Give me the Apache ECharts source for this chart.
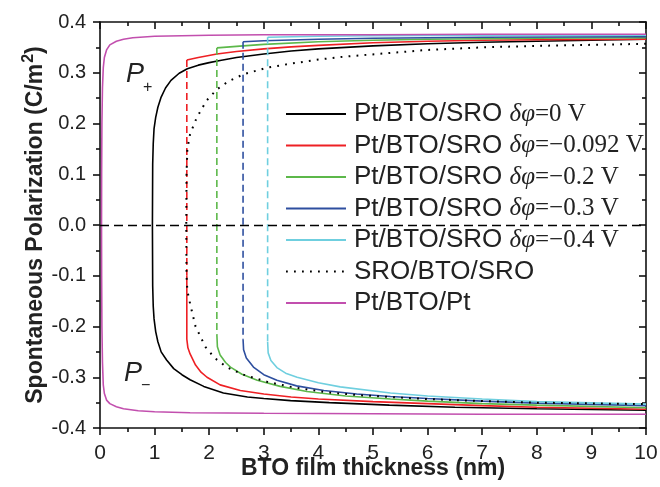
<!DOCTYPE html>
<html>
<head>
<meta charset="utf-8">
<script src="https://cdn.jsdelivr.net/npm/echarts@6/dist/echarts.min.js"></script>
<style>html,body{margin:0;padding:0;background:#fff}#c{width:660px;height:487px}</style>
</head>
<body>
<div id="c"></div>
<script>
// ---- data (x: BTO thickness nm, y: polarization C/m^2) ----
const xTicks = [0,1,2,3,4,5,6,7,8,9,10];
const yTicks = [-0.4,-0.3,-0.2,-0.1,0.0,0.1,0.2,0.3,0.4];

const black0 = [[10,0.366],[9,0.364],[8,0.362],[7,0.360],[6,0.357],[5,0.353],[4,0.347],[3.5,0.343],[3,0.337],[2.5,0.330],[2.2,0.324],[2,0.320],[1.8,0.315],[1.6,0.308],[1.45,0.299],[1.3,0.285],[1.2,0.270],[1.12,0.252],[1.06,0.232],[1.02,0.212],[0.99,0.190],[0.975,0.160],[0.965,0.120],[0.96,0.0],
  [0.965,-0.120],[0.975,-0.160],[0.99,-0.185],[1.02,-0.210],[1.06,-0.230],[1.12,-0.250],[1.22,-0.266],[1.35,-0.283],[1.5,-0.295],[1.65,-0.305],[1.9,-0.318],[2.26,-0.331],[2.7,-0.339],[3.0,-0.342],[3.49,-0.346],[4.2,-0.350],[5.3,-0.355],[6.5,-0.359],[8,-0.362],[10,-0.365]];

const red092Upper = [[1.59,0.325],[1.8,0.330],[2.14,0.337],[2.5,0.342],[3,0.347],[3.5,0.351],[4,0.354],[5,0.359],[6,0.362],[7,0.364],[8,0.365],[10,0.366]];
const red092Jump = [[1.59,0.325],[1.59,-0.10]];
const red092Lower = [[1.59,-0.10],[1.59,-0.225],[1.61,-0.242],[1.65,-0.254],[1.75,-0.276],[1.85,-0.290],[1.96,-0.300],[2.2,-0.315],[2.57,-0.326],[3,-0.333],[3.5,-0.339],[4,-0.343],[5,-0.348],[6,-0.352],[7,-0.356],[8,-0.359],[10,-0.363]];

const green2Upper = [[2.14,0.349],[2.5,0.352],[3,0.356],[4,0.361],[5,0.364],[6,0.366],[8,0.368],[10,0.369]];
const green2Jump = [[2.14,0.349],[2.14,-0.215]];
const green2Lower = [[2.14,-0.215],[2.15,-0.240],[2.2,-0.256],[2.3,-0.271],[2.39,-0.280],[2.6,-0.294],[2.88,-0.306],[3.3,-0.318],[3.79,-0.328],[4.5,-0.337],[5.32,-0.343],[6,-0.347],[7,-0.352],[8,-0.355],[10,-0.360]];

const blue3Upper = [[2.62,0.361],[3,0.363],[4,0.366],[5,0.368],[7,0.370],[10,0.371]];
const blue3Jump = [[2.62,0.361],[2.62,-0.225]];
const blue3Lower = [[2.62,-0.225],[2.63,-0.246],[2.68,-0.262],[2.81,-0.280],[3,-0.295],[3.24,-0.306],[3.6,-0.317],[4.1,-0.326],[4.7,-0.333],[5.32,-0.338],[6,-0.342],[7,-0.347],[8,-0.351],[10,-0.356]];

const cyan4Upper = [[3.07,0.370],[4,0.372],[5,0.373],[7,0.374],[10,0.374]];
const cyan4Jump = [[3.07,0.370],[3.07,-0.230]];
const cyan4Lower = [[3.07,-0.230],[3.08,-0.252],[3.13,-0.267],[3.24,-0.281],[3.4,-0.292],[3.61,-0.300],[4,-0.311],[4.4,-0.319],[5.32,-0.331],[6,-0.337],[7,-0.343],[8,-0.348],[10,-0.353]];

const sroSro = [[10,0.357],[9,0.355],[8,0.353],[7,0.350],[6,0.345],[5.32,0.339],[4.5,0.332],[4,0.326],[3.5,0.318],[3.06,0.310],[2.63,0.297],[2.35,0.283],[2.14,0.267],[1.95,0.245],[1.77,0.211],[1.65,0.179],[1.6,0.150],[1.585,0.100],[1.58,0.0],
  [1.585,-0.100],[1.6,-0.130],[1.65,-0.155],[1.75,-0.200],[1.93,-0.240],[2.1,-0.262],[2.32,-0.280],[2.6,-0.294],[3.06,-0.309],[3.5,-0.319],[4.1,-0.329],[4.7,-0.335],[5.32,-0.339],[6,-0.343],[7,-0.347],[8,-0.350],[10,-0.353]];

const ptPt = [[10,0.376],[7,0.376],[5,0.375],[3,0.375],[2,0.374],[1,0.372],[0.6,0.369],[0.43,0.366],[0.3,0.362],[0.18,0.355],[0.12,0.345],[0.08,0.330],[0.06,0.310],[0.045,0.270],[0.035,0.200],[0.03,0.100],[0.028,0.0],
  [0.03,-0.100],[0.035,-0.200],[0.045,-0.270],[0.06,-0.315],[0.08,-0.332],[0.12,-0.345],[0.18,-0.352],[0.3,-0.358],[0.43,-0.362],[0.7,-0.366],[1.0,-0.368],[1.65,-0.370],[3,-0.371],[5,-0.372],[7,-0.373],[10,-0.373]];

const names = ['Pt/BTO/SRO δφ=0 V','Pt/BTO/SRO δφ=−0.092 V','Pt/BTO/SRO δφ=−0.2 V','Pt/BTO/SRO δφ=−0.3 V','Pt/BTO/SRO δφ=−0.4 V','SRO/BTO/SRO','Pt/BTO/Pt'];
const colors = ['#000000','#ee2024','#5cb84a','#2e4f9f','#6fcfdf','#000000','#c24fae'];

const chart = echarts.init(document.getElementById('c'), null, {renderer:'canvas'});
const LW = 1.6;
function solid(name, data, color){return {name, type:'line', data, symbol:'none', showSymbol:false, lineStyle:{color, width:LW}, itemStyle:{color}, silent:true, z:3};}
function dashed(name, data, color){return {name, type:'line', data, symbol:'none', showSymbol:false, lineStyle:{color, width:LW, type:[7,4]}, itemStyle:{color}, silent:true, z:3};}

const series = [
  solid(names[0], black0, colors[0]),
  solid(names[1], red092Upper, colors[1]),
  solid(names[2], green2Upper, colors[2]),
  solid(names[3], blue3Upper, colors[3]),
  solid(names[4], cyan4Upper, colors[4]),
  {name:names[5], type:'line', data:sroSro, symbol:'none', showSymbol:false, lineStyle:{color:'#000', width:2, type:[1.8,6.2], cap:'butt'}, itemStyle:{color:'#000'}, silent:true, z:4},
  solid(names[6], ptPt, colors[6]),
  solid('r_low', red092Lower, colors[1]),
  solid('g_low', green2Lower, colors[2]),
  solid('b_low', blue3Lower, colors[3]),
  solid('c_low', cyan4Lower, colors[4]),
  dashed('r_jump', red092Jump, colors[1]),
  dashed('g_jump', green2Jump, colors[2]),
  dashed('b_jump', blue3Jump, colors[3]),
  dashed('c_jump', cyan4Jump, colors[4]),
  {name:'zero', type:'line', data:[], symbol:'none', silent:true,
   markLine:{silent:true, symbol:'none', label:{show:false}, lineStyle:{color:'#000', width:1.3, type:[9,5]}, data:[{yAxis:0}]}}
];

const F = '"Liberation Sans", Arial, sans-serif';
const SERIF = '"Liberation Serif", "Times New Roman", serif';
chart.setOption({
  animation:false,
  backgroundColor:'#fff',
  grid:{left:100, right:14, top:22, bottom:59, show:false, containLabel:false, outerBoundsMode:'none'},
  xAxis:[
    {type:'value', min:0, max:10, interval:1, position:'bottom',
     axisLine:{show:true, onZero:false, lineStyle:{color:'#111', width:1.6}},
     axisTick:{show:true, inside:false, length:7, lineStyle:{color:'#111', width:1.6}},
     minorTick:{show:true, splitNumber:2, length:4, lineStyle:{color:'#111', width:1.6}},
     splitLine:{show:false},
     axisLabel:{margin:15, color:'#222', fontSize:21, fontFamily:F, formatter:v=>xTicks.includes(v)?String(v):''},
     name:'BTO film thickness (nm)', nameLocation:'middle', nameGap:29, nameMoveOverlap:false,
     nameTextStyle:{fontSize:23, fontWeight:'bold', color:'#222', fontFamily:F}},
    {type:'value', min:0, max:10, interval:1, position:'top',
     axisLine:{show:true, onZero:false, lineStyle:{color:'#111', width:1.6}},
     axisTick:{show:true, inside:true, length:7, lineStyle:{color:'#111', width:1.6}},
     minorTick:{show:true, splitNumber:2, length:4, lineStyle:{color:'#111', width:1.6}},
     splitLine:{show:false}, axisLabel:{show:false}}
  ],
  yAxis:[
    {type:'value', min:-0.4, max:0.4, interval:0.1, position:'left',
     axisLine:{show:true, onZero:false, lineStyle:{color:'#111', width:1.6}},
     axisTick:{show:true, inside:false, length:7, lineStyle:{color:'#111', width:1.6}},
     minorTick:{show:true, splitNumber:2, length:4, lineStyle:{color:'#111', width:1.6}},
     splitLine:{show:false},
     axisLabel:{margin:14, color:'#222', fontSize:20, fontFamily:F, formatter:v=>{const t=yTicks.find(u=>Math.abs(u-v)<1e-9); return t===undefined?'':t.toFixed(1);}},
     name:'{t|Spontaneous Polarization (C/m}{s|2}{t|)}', nameLocation:'middle', nameGap:53, nameRotate:90, nameMoveOverlap:false,
     nameTextStyle:{color:'#222', fontFamily:F, fontWeight:'bold', fontSize:23,
       rich:{t:{fontSize:23, fontWeight:'bold', fontFamily:F, color:'#222', lineHeight:26, verticalAlign:'bottom'},
             s:{fontSize:16, fontWeight:'bold', fontFamily:F, color:'#222', lineHeight:26, verticalAlign:'top', padding:[0,0,9,1]}}}},
    {type:'value', min:-0.4, max:0.4, interval:0.1, position:'right',
     axisLine:{show:true, onZero:false, lineStyle:{color:'#111', width:1.6}},
     axisTick:{show:true, inside:true, length:7, lineStyle:{color:'#111', width:1.6}},
     minorTick:{show:true, splitNumber:2, length:4, lineStyle:{color:'#111', width:1.6}},
     splitLine:{show:false}, axisLabel:{show:false}}
  ],
  legend:{
    data:names, orient:'vertical', left:285, top:101, padding:0,
    itemWidth:60, itemHeight:14, itemGap:5.5, selectedMode:false,
    itemStyle:{color:'rgba(0,0,0,0)', borderWidth:0, opacity:0},
    formatter:function(n){
      const i = n.indexOf(' δφ');
      if(i<0) return '{a|'+n+'}';
      return '{a|'+n.slice(0,i)+' }{b|δφ}{c|'+n.slice(i+3)+'}';
    },
    textStyle:{padding:[0,0,0,3], rich:{
      a:{fontFamily:F, fontSize:26, color:'#222', lineHeight:26},
      b:{fontFamily:SERIF, fontStyle:'italic', fontSize:25, color:'#222', lineHeight:26},
      c:{fontFamily:SERIF, fontSize:25, color:'#222', lineHeight:26}
    }}
  },
  graphic:[
    {type:'text', left:126, top:61, style:{text:'P', font:'italic 27px "Liberation Sans", Arial, sans-serif', fill:'#222'}},
    {type:'text', left:143, top:80, style:{text:'+', font:'16px "Liberation Sans", Arial, sans-serif', fill:'#222'}},
    {type:'text', left:124, top:360, style:{text:'P', font:'italic 27px "Liberation Sans", Arial, sans-serif', fill:'#222'}},
    {type:'text', left:141, top:378, style:{text:'−', font:'16px "Liberation Sans", Arial, sans-serif', fill:'#222'}}
  ],
  series
});
</script>
</body>
</html>
